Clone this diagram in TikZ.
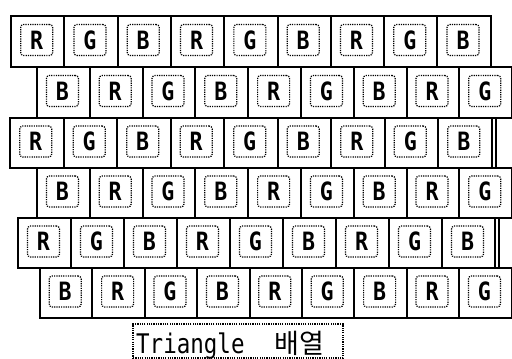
\documentclass[tikz,border=0pt]{standalone}
\usepackage{fontspec}
\newfontfamily\cellfont{DejaVu Sans Mono}
\newfontfamily\krfont{Noto Sans CJK KR}
\begin{document}
\begin{tikzpicture}[x=1pt,y=-1pt,
  cell/.style={draw=black,line width=2pt,inner sep=0pt,outer sep=0pt},
  innerbox/.style={draw=black,line width=1.2pt,dash pattern=on 1.2pt off 1.1pt,
    rounded corners=3pt,minimum width=32pt,minimum height=31pt,inner sep=0pt,
    font=\cellfont\bfseries\fontsize{24}{24}\selectfont},
  capframe/.style={draw=black,line width=1.1pt,dash pattern=on 1.2pt off 1.1pt,
    minimum width=210pt,minimum height=34pt,inner sep=0pt}]
\useasboundingbox (0,0) rectangle (512,359);
\clip (0,0) rectangle (512,359);
\fill[white] (0,0) rectangle (512,359);
\foreach \r/\x/\y/\w/\h/\s/\extra in {1/11/16/53.3/51/0/0, 2/37/67/52.8/51/2/0, 3/10/118/53.5/50/0/1, 4/37/168/52.8/50/2/0, 5/18/218/53/50/0/1, 6/40/268/52.4/50/2/0} {
  \foreach \i in {0,...,8} {
    \pgfmathtruncatemacro\k{mod(\i+\s,3)}
    \ifcase\k \def\L{R}\or \def\L{G}\or \def\L{B}\fi
    \node[cell,minimum width=\w pt,minimum height=\h pt] (c\r-\i) at ({\x+(\i+0.5)*\w},{\y+\h/2}) {};
    \node[innerbox] (i\r-\i) at ({\x+(\i+0.5)*\w-1},{\y+\h/2-1.5}) {\scalebox{0.9}[1.05]{\L}};
  }
  \ifnum\extra=1
    \node[cell,minimum width=\w pt,minimum height=\h pt] (c\r-9) at ({\x+9.5*\w+4},{\y+\h/2}) {};
  \fi
}
\node[capframe] (capbox) at (238,341) {};
\node[anchor=base west,inner sep=0pt] (captext) at (136,353)
  {\scalebox{1}[1.2]{\cellfont\fontsize{22.5}{22.5}\selectfont Triangle}\hspace{30pt}{\krfont\fontsize{27}{27}\selectfont 배열}};
\end{tikzpicture}
\end{document}
